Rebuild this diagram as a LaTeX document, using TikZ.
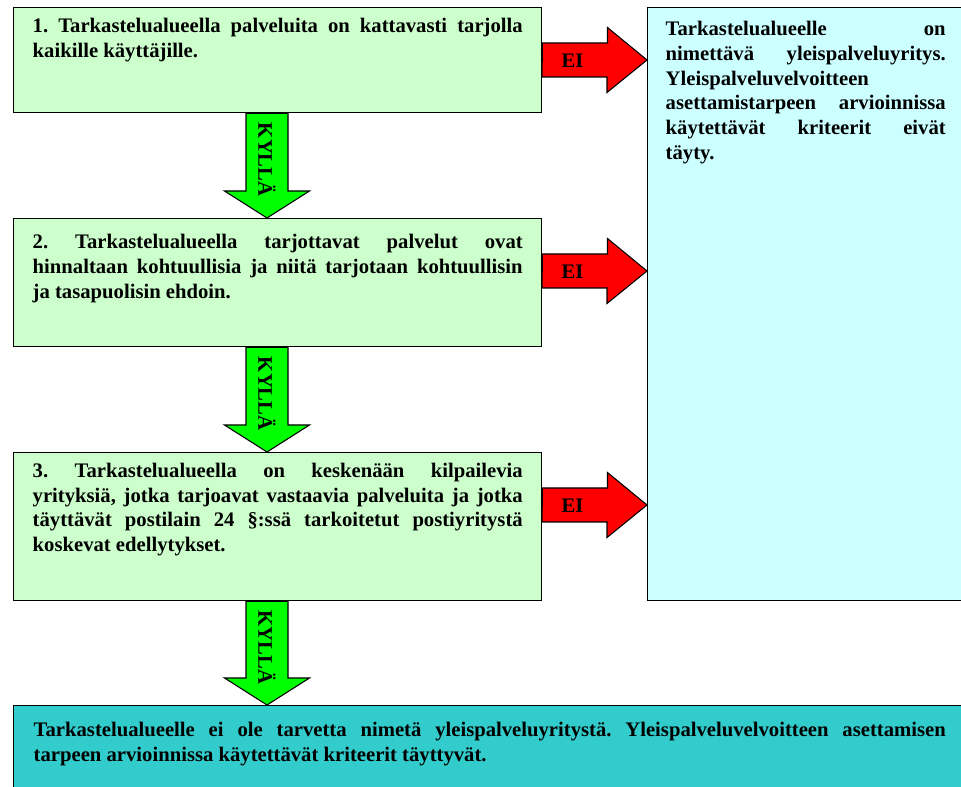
\documentclass[tikz,border=0pt]{standalone}
\usepackage{fontspec}
\setmainfont{Liberation Serif}
\usepackage{xcolor}
\usepackage{tikz}
\usetikzlibrary{calc}
\frenchspacing
\definecolor{qgreen}{HTML}{CCFFCC}
\definecolor{nocyan}{HTML}{CCFFFF}
\definecolor{yesteal}{HTML}{33CCCC}
\definecolor{kyllagreen}{HTML}{00FF00}
\definecolor{eired}{HTML}{FF0000}
\newcommand{\boxtext}[4]{\parbox[t][#1][t]{#2}{\tolerance=10000\hyphenpenalty=10000\hbadness=10000
  \rule{0pt}{#3}#4}}

\begin{document}
\begin{tikzpicture}[x=0.75pt, y=-0.75pt,
  txt/.style={font=\bfseries\fontsize{15.5pt}{18.5pt}\selectfont},
  box/.style={txt, draw=black, line width=1.1pt, anchor=north west, inner ysep=0pt},
  qbox/.style={box, fill=qgreen, inner xsep=14.25pt},
  nobox/.style={box, fill=nocyan, inner xsep=13.5pt},
  yesbox/.style={box, fill=yesteal, inner xsep=15pt},
  kylla/.style={draw=black, line width=0.8pt, fill=kyllagreen},
  ei/.style={draw=black, line width=0.8pt, fill=eired},
]
\useasboundingbox (0,0) rectangle (961,787);
\clip (0,0) rectangle (961,787);

\node[qbox] (q1) at (13,7) {\boxtext{78.75pt}{367.5pt}{18.75pt}{%
  1. Tarkastelualueella palveluita on kattavasti tarjolla\linebreak
  kaikille käyttäjille.}};
\node[qbox] (q2) at (13,218) {\boxtext{96pt}{367.5pt}{22.5pt}{%
  2. Tarkastelualueella tarjottavat palvelut ovat\linebreak
  hinnaltaan kohtuullisia ja niitä tarjotaan kohtuullisin\linebreak
  ja tasapuolisin ehdoin.}};
\node[qbox] (q3) at (13,452) {\boxtext{111pt}{367.5pt}{18.5pt}{%
  3. Tarkastelualueella on keskenään kilpailevia\linebreak
  yrityksiä, jotka tarjoavat vastaavia palveluita ja jotka\linebreak
  täyttävät postilain 24 §:ssä tarkoitetut postiyritystä\linebreak
  koskevat edellytykset.}};
\node[nobox] (no) at (647,7) {\boxtext{444.75pt}{210pt}{21pt}{%
  Tarkastelualueelle on\linebreak
  nimettävä yleispalveluyritys.\linebreak
  Yleispalveluvelvoitteen\linebreak
  asettamistarpeen arvioinnissa\linebreak
  käytettävät kriteerit eivät\linebreak
  täyty.}};
\node[yesbox] (yes) at (13,705) {\boxtext{67.5pt}{684pt}{23.25pt}{%
  Tarkastelualueelle ei ole tarvetta nimetä yleispalveluyritystä. Yleispalveluvelvoitteen asettamisen\linebreak
  tarpeen arvioinnissa käytettävät kriteerit täyttyvät.}};

\foreach \a/\b in {q1/q2, q2/q3, q3/yes} {
  \coordinate (\a-top) at ($(\a.south west)+(254,0)$);
  \coordinate (\a-tip) at (\a-top |- \b.north);
  \draw[kylla] ($(\a-top)+(-21,0)$) -- ($(\a-tip)+(-21,-27)$) -- ++(-21.5,0) -- (\a-tip)
    -- ++(42.5,-27) -- ++(-21.5,0) -- ($(\a-top)+(21,0)$) -- cycle;
  \node[txt, rotate=-90] (\a-kylla) at ($(\a-top)!0.5!(\a-tip)+(0,-6)$) {KYLLÄ};
}
\foreach \q in {q1, q2, q3} {
  \coordinate (\q-ei) at ($(\q.north east)+(0,53)$);
  \draw[ei] ($(\q-ei)+(0,-17)$) -- ++(65,0) -- ++(0,-15.5) -- (\q-ei -| no.west)
    -- ++(-40,32.5) -- ++(0,-15.5) -- ++(-65,0) -- cycle;
  \node[txt] (\q-eilabel) at ($(\q-ei)+(30,1)$) {EI};
}
\end{tikzpicture}
\end{document}
